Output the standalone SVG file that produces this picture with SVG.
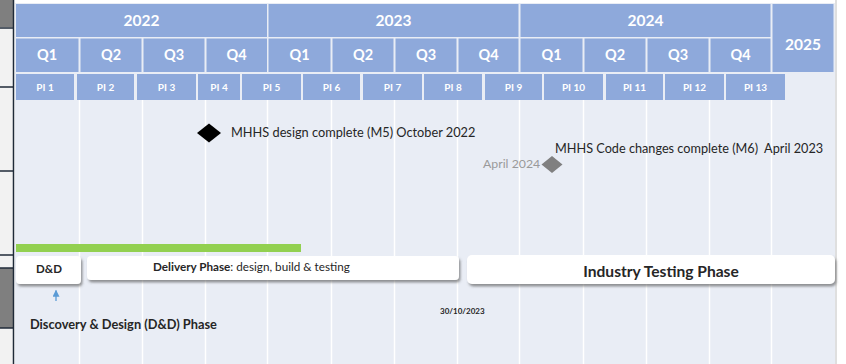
<svg xmlns="http://www.w3.org/2000/svg" width="846" height="364" viewBox="0 0 846 364">
  <style>
    .hdr { fill: #8EA9DB; }
    .hdrtxt { font-family: Lato, "Open Sans", sans-serif; font-weight: bold; fill: #FFFFFF; text-anchor: middle; }
    .yr { font-size: 15.5px; }
    .qt { font-size: 14.5px; }
    .pi { font-size: 10px; }
    .grid { stroke: #FFFFFF; stroke-width: 1.5; }
    .label { font-family: Lato, "Open Sans", sans-serif; fill: #262626; }
    .phase { fill: #FFFFFF; filter: url(#shadow); }
    .side { stroke: #1F2A38; stroke-width: 1.5; }
  </style>
  <defs>
    <filter id="shadow" x="-5%" y="-30%" width="110%" height="180%">
      <feDropShadow dx="1.5" dy="2.5" stdDeviation="1.3" flood-color="#555555" flood-opacity="0.6"/>
    </filter>
    <marker id="arrowBlue" viewBox="0 0 10 10" refX="9" refY="5" markerUnits="userSpaceOnUse" markerWidth="8" markerHeight="7" orient="auto">
      <path d="M0,0 L10,5 L0,10 z" fill="#5B9BD5"/>
    </marker>
  </defs>

  <!-- page background -->
  <rect x="0" y="0" width="846" height="364" fill="#FFFFFF"/>

  <!-- left side panel -->
  <g id="side-panel">
    <rect x="0" y="0" width="13" height="364" fill="#F2F2F2"/>
    <rect x="0" y="0" width="13" height="27" fill="#7F7F7F"/>
    <rect x="0" y="268" width="13" height="60" fill="#7F7F7F"/>
    <line class="side" x1="0" y1="28" x2="13" y2="28"/>
    <line class="side" x1="0" y1="87" x2="13" y2="87"/>
    <line class="side" x1="0" y1="171" x2="13" y2="171"/>
    <line class="side" x1="0" y1="255" x2="13" y2="255"/>
    <line class="side" x1="0" y1="268" x2="13" y2="268"/>
    <line class="side" x1="0" y1="328" x2="13" y2="328"/>
    <line class="side" x1="13.5" y1="0" x2="13.5" y2="364"/>
  </g>

  <!-- chart body -->
  <rect x="15" y="3" width="820" height="361" fill="#E9EDF5"/>
  <line x1="836" y1="0" x2="836" y2="364" stroke="#BFBFBF" stroke-width="1"/>

  <!-- quarter grid lines -->
  <g id="grid">
    <line class="grid" x1="79.5" y1="100" x2="79.5" y2="364"/>
    <line class="grid" x1="142.5" y1="100" x2="142.5" y2="364"/>
    <line class="grid" x1="205.5" y1="100" x2="205.5" y2="364"/>
    <line class="grid" x1="267.5" y1="100" x2="267.5" y2="364"/>
    <line class="grid" x1="331.5" y1="100" x2="331.5" y2="364"/>
    <line class="grid" x1="394.5" y1="100" x2="394.5" y2="364"/>
    <line class="grid" x1="457.5" y1="100" x2="457.5" y2="364"/>
    <line class="grid" x1="519.5" y1="100" x2="519.5" y2="364"/>
    <line class="grid" x1="583.5" y1="100" x2="583.5" y2="364"/>
    <line class="grid" x1="646.5" y1="100" x2="646.5" y2="364"/>
    <line class="grid" x1="709.5" y1="100" x2="709.5" y2="364"/>
    <line class="grid" x1="771.5" y1="100" x2="771.5" y2="364"/>
  </g>

  <!-- year row -->
  <g id="years">
    <rect class="hdr" x="16" y="4" width="251" height="33"/>
    <text class="hdrtxt yr" x="141.5" y="26">2022</text>
    <rect class="hdr" x="268.5" y="4" width="250" height="33"/>
    <text class="hdrtxt yr" x="393.5" y="26">2023</text>
    <rect class="hdr" x="520.5" y="4" width="250" height="33"/>
    <text class="hdrtxt yr" x="645.5" y="26">2024</text>
    <rect class="hdr" x="772.5" y="4" width="61" height="68"/>
    <text class="hdrtxt yr" x="803" y="50">2025</text>
  </g>

  <!-- quarter row -->
  <g id="quarters">
    <rect class="hdr" x="16" y="38.5" width="62.5" height="33.5"/>
    <text class="hdrtxt qt" x="47" y="60">Q1</text>
    <rect class="hdr" x="80.5" y="38.5" width="61" height="33.5"/>
    <text class="hdrtxt qt" x="111" y="60">Q2</text>
    <rect class="hdr" x="143.5" y="38.5" width="61" height="33.5"/>
    <text class="hdrtxt qt" x="174" y="60">Q3</text>
    <rect class="hdr" x="206.5" y="38.5" width="60.5" height="33.5"/>
    <text class="hdrtxt qt" x="236.5" y="60">Q4</text>
    <rect class="hdr" x="268.5" y="38.5" width="62" height="33.5"/>
    <text class="hdrtxt qt" x="299.5" y="60">Q1</text>
    <rect class="hdr" x="332.5" y="38.5" width="61" height="33.5"/>
    <text class="hdrtxt qt" x="363" y="60">Q2</text>
    <rect class="hdr" x="395.5" y="38.5" width="61" height="33.5"/>
    <text class="hdrtxt qt" x="426" y="60">Q3</text>
    <rect class="hdr" x="458.5" y="38.5" width="60" height="33.5"/>
    <text class="hdrtxt qt" x="488.5" y="60">Q4</text>
    <rect class="hdr" x="520.5" y="38.5" width="62" height="33.5"/>
    <text class="hdrtxt qt" x="551.5" y="60">Q1</text>
    <rect class="hdr" x="584.5" y="38.5" width="61" height="33.5"/>
    <text class="hdrtxt qt" x="615" y="60">Q2</text>
    <rect class="hdr" x="647.5" y="38.5" width="61" height="33.5"/>
    <text class="hdrtxt qt" x="678" y="60">Q3</text>
    <rect class="hdr" x="710.5" y="38.5" width="60" height="33.5"/>
    <text class="hdrtxt qt" x="740.5" y="60">Q4</text>
  </g>

  <!-- PI row -->
  <g id="increments">
    <rect class="hdr" x="16" y="74" width="58" height="26"/>
    <text class="hdrtxt pi" x="45" y="91">PI 1</text>
    <rect class="hdr" x="77" y="74" width="57" height="26"/>
    <text class="hdrtxt pi" x="105.5" y="91">PI 2</text>
    <rect class="hdr" x="137" y="74" width="59" height="26"/>
    <text class="hdrtxt pi" x="166.5" y="91">PI 3</text>
    <rect class="hdr" x="198" y="74" width="42" height="26"/>
    <text class="hdrtxt pi" x="219" y="91">PI 4</text>
    <rect class="hdr" x="242" y="74" width="59" height="26"/>
    <text class="hdrtxt pi" x="271.5" y="91">PI 5</text>
    <rect class="hdr" x="303" y="74" width="57" height="26"/>
    <text class="hdrtxt pi" x="331.5" y="91">PI 6</text>
    <rect class="hdr" x="363" y="74" width="59" height="26"/>
    <text class="hdrtxt pi" x="392.5" y="91">PI 7</text>
    <rect class="hdr" x="424" y="74" width="58" height="26"/>
    <text class="hdrtxt pi" x="453" y="91">PI 8</text>
    <rect class="hdr" x="485" y="74" width="57" height="26"/>
    <text class="hdrtxt pi" x="513.5" y="91">PI 9</text>
    <rect class="hdr" x="544" y="74" width="59" height="26"/>
    <text class="hdrtxt pi" x="573.5" y="91">PI 10</text>
    <rect class="hdr" x="606" y="74" width="57" height="26"/>
    <text class="hdrtxt pi" x="634.5" y="91">PI 11</text>
    <rect class="hdr" x="665" y="74" width="59" height="26"/>
    <text class="hdrtxt pi" x="694.5" y="91">PI 12</text>
    <rect class="hdr" x="726" y="74" width="59" height="26"/>
    <text class="hdrtxt pi" x="755.5" y="91">PI 13</text>
  </g>

  <!-- milestones -->
  <g id="milestone-m5">
    <path d="M197,133 L209,123.5 L221,133 L209,142.5 Z" fill="#000000"/>
    <text class="label" x="231" y="137" font-size="12.75">MHHS design complete (M5) October 2022</text>
  </g>
  <g id="milestone-m6">
    <path d="M541.5,164.5 L552,156 L562.5,164.5 L552,173 Z" fill="#808080"/>
    <text class="label" x="483" y="168" font-size="12.3" style="fill:#9A9A9A">April 2024</text>
    <text class="label" x="555" y="153" font-size="12.7">MHHS Code changes complete (M6)&#160; April 2023</text>
  </g>

  <!-- progress bar -->
  <rect id="progress" x="16" y="244" width="285" height="8" fill="#92D050"/>

  <!-- phases -->
  <g id="phase-dd">
    <rect class="phase" x="16" y="256" width="65" height="28" rx="4"/>
    <text class="label" x="49" y="273" font-size="11.5" font-weight="bold" text-anchor="middle" fill="#111111">D&amp;D</text>
  </g>
  <g id="phase-delivery">
    <rect class="phase" x="87" y="256" width="372" height="24" rx="4"/>
    <text class="label" x="153" y="271" font-size="11.7" fill="#111111"><tspan font-weight="bold">Delivery Phase</tspan>: design, build &amp; testing</text>
  </g>
  <g id="phase-industry">
    <rect class="phase" x="467" y="255" width="368" height="29" rx="5"/>
    <text class="label" x="661" y="277" font-size="15.6" font-weight="bold" text-anchor="middle" fill="#111111">Industry Testing Phase</text>
  </g>

  <!-- annotations -->
  <g id="connectors">
    <line x1="56" y1="301" x2="56" y2="290.5" stroke="#5B9BD5" stroke-width="1.3" marker-end="url(#arrowBlue)"/>
  </g>
  <g id="dd-label">
    <text class="label" x="30" y="329" font-size="12.8" font-weight="bold" fill="#111111">Discovery &amp; Design (D&amp;D) Phase</text>
  </g>
  <g id="date-label">
    <text class="label" x="440" y="314" font-size="8" font-weight="bold" fill="#111111">30/10/2023</text>
  </g>
</svg>
